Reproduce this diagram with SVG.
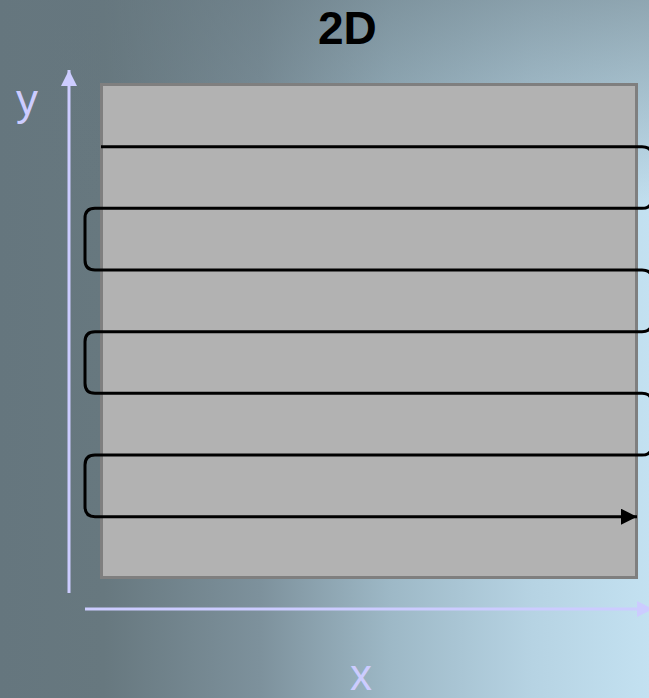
<svg xmlns="http://www.w3.org/2000/svg" width="649" height="698" viewBox="0 0 649 698">
  <defs>
    <linearGradient id="bgH" x1="0" y1="0" x2="1" y2="0">
      <stop offset="0" stop-color="#65767e"/>
      <stop offset="0.16" stop-color="#67787f"/>
      <stop offset="0.4" stop-color="#7d919c"/>
      <stop offset="0.6" stop-color="#9db8c6"/>
      <stop offset="0.82" stop-color="#b6d3e3"/>
      <stop offset="1" stop-color="#c3e1f1"/>
    </linearGradient>
    <linearGradient id="bgV" x1="0" y1="0" x2="0" y2="1">
      <stop offset="0" stop-color="#65767e" stop-opacity="0.55"/>
      <stop offset="0.3" stop-color="#65767e" stop-opacity="0"/>
    </linearGradient>
    <marker id="blackArrow" viewBox="0 0 16 16" refX="16" refY="8" markerWidth="16" markerHeight="16" markerUnits="userSpaceOnUse" orient="auto">
      <path d="M0,0 L16,8 L0,16 Z" fill="#000"/>
    </marker>
    <marker id="axisArrow" viewBox="0 0 16 16" refX="16" refY="8" markerWidth="16" markerHeight="16" markerUnits="userSpaceOnUse" orient="auto">
      <path d="M0,0 L16,8 L0,16 Z" fill="#ccccff"/>
    </marker>
  </defs>
  <style>
    .axis { stroke: #ccccff; stroke-width: 3; fill: none; }
    .axislabel { font-family: "Liberation Sans", Arial, sans-serif; font-size: 44px; fill: #ccccff; }
    .title { font-family: "Liberation Sans", Arial, sans-serif; font-size: 46px; font-weight: bold; fill: #000; }
    .scan { stroke: #000; stroke-width: 3; fill: none; }
  </style>

  <rect x="0" y="0" width="649" height="698" fill="url(#bgH)"/>
  <rect x="0" y="0" width="649" height="698" fill="url(#bgV)"/>

  <g id="title">
    <text class="title" x="318" y="44">2D</text>
  </g>

  <g id="plane">
    <rect x="101.5" y="84.5" width="535" height="493" fill="#b2b2b2" stroke="#7f7f7f" stroke-width="3"/>
  </g>

  <g id="y-axis">
    <line class="axis" x1="69" y1="593" x2="69" y2="70" marker-end="url(#axisArrow)"/>
    <text class="axislabel" x="16" y="115">y</text>
  </g>

  <g id="x-axis">
    <line class="axis" x1="85" y1="609" x2="653" y2="609" marker-end="url(#axisArrow)"/>
    <text class="axislabel" x="361" y="690" text-anchor="middle">x</text>
  </g>

  <g id="connectors">
    <path class="scan" marker-end="url(#blackArrow)" d="M101,146.7 H642 Q652,146.7 652,156.7 V198.3 Q652,208.3 642,208.3 H95 Q85,208.3 85,218.3 V260 Q85,270 95,270 H642 Q652,270 652,280 V321.7 Q652,331.7 642,331.7 H95 Q85,331.7 85,341.7 V383.3 Q85,393.3 95,393.3 H642 Q652,393.3 652,403.3 V445 Q652,455 642,455 H95 Q85,455 85,465 V506.7 Q85,516.7 95,516.7 H637"/>
  </g>
</svg>
